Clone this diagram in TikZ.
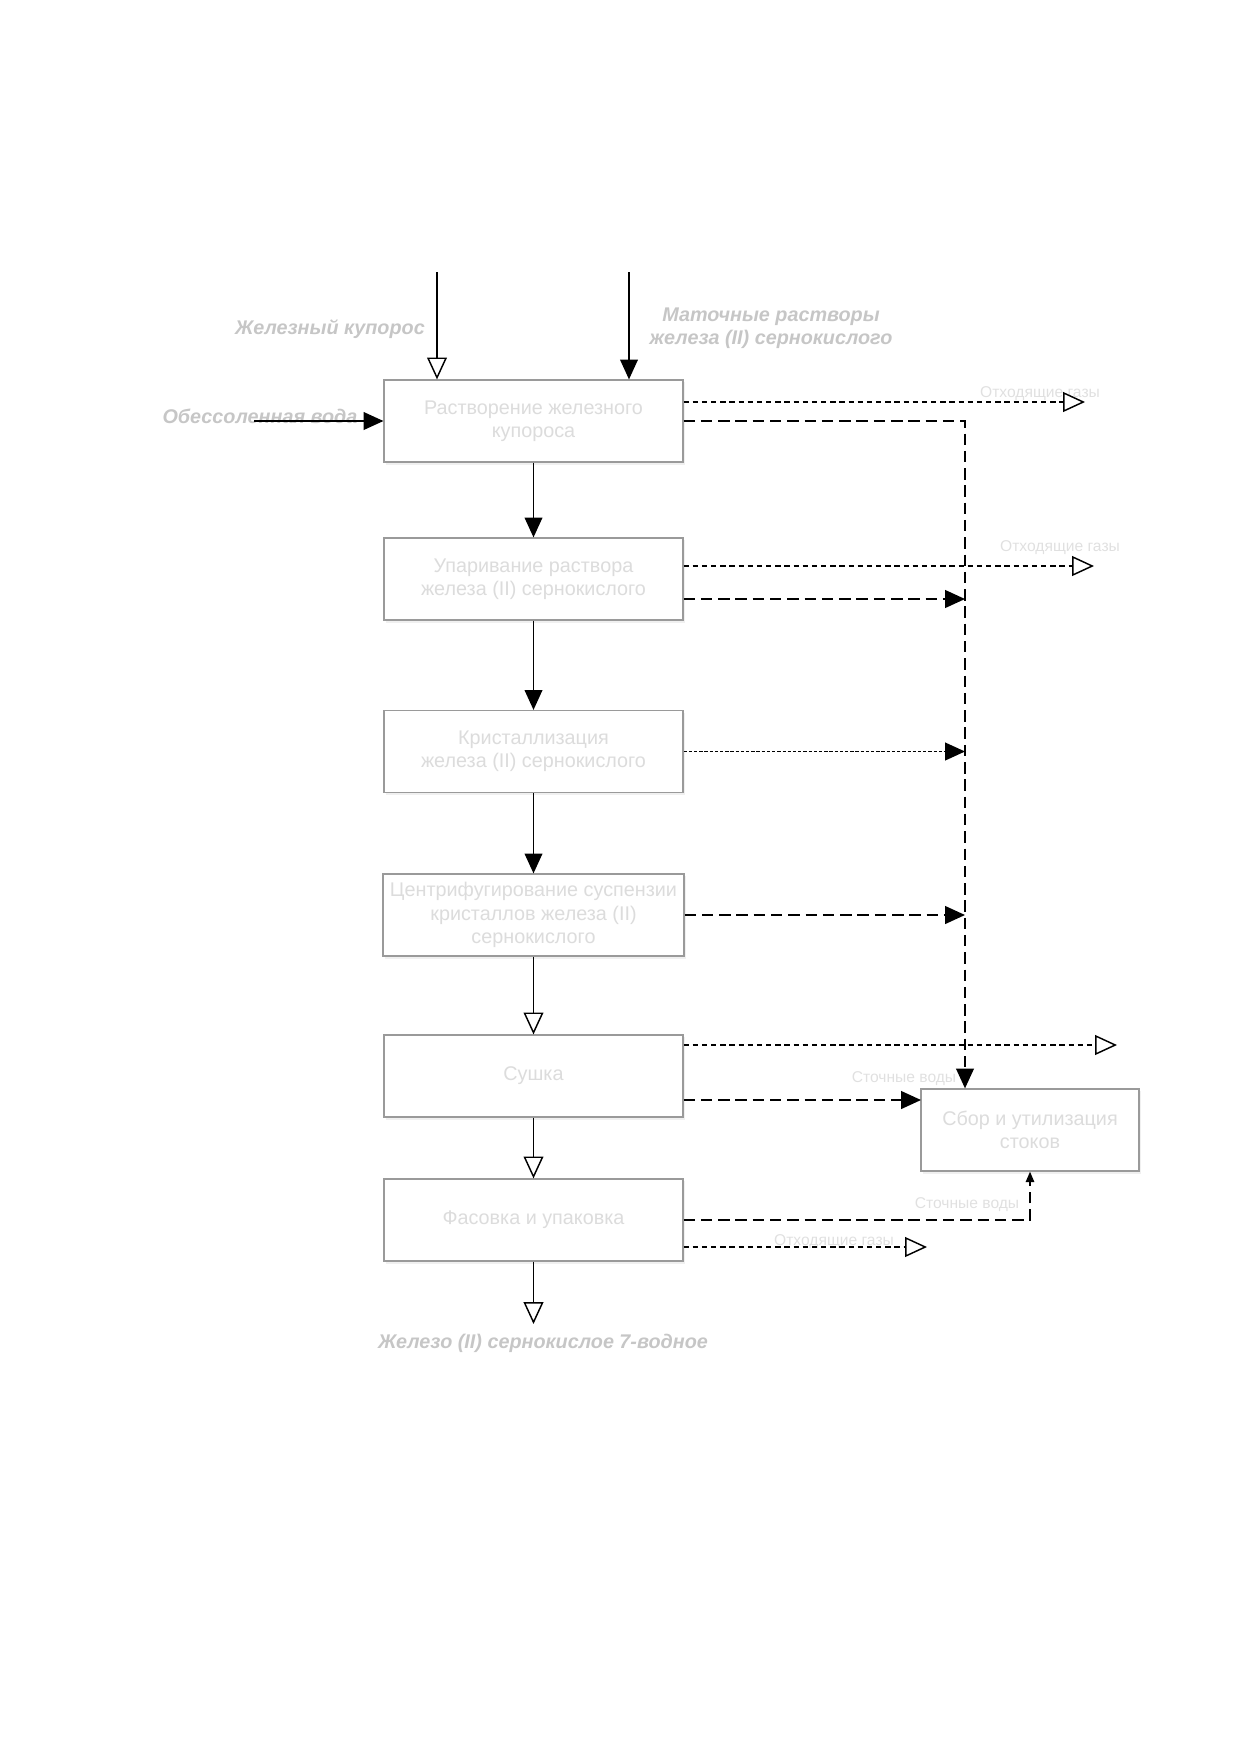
\documentclass[tikz,border=0pt]{standalone}
\usepackage{fontspec}
\setmainfont{Liberation Sans}
\usetikzlibrary{arrows.meta,shadows}

\definecolor{boxline}{HTML}{9A9A9A}
\definecolor{boxtext}{HTML}{DCDCDC}
\definecolor{flowtext}{HTML}{C6C6C6}
\definecolor{smalltext}{HTML}{E0E0E0}

\tikzset{
  proc/.style={draw=boxline, fill=white, line width=0.55pt, minimum width=143.5pt,
    minimum height=39.4pt, align=center, text=boxtext,
    font=\fontsize{9.5}{11.2}\selectfont,
    drop shadow={opacity=0.12, shadow xshift=0.8pt, shadow yshift=-1.2pt}},
  flowlabel/.style={text=flowtext, align=center,
    font=\bfseries\itshape\fontsize{9.5}{11}\selectfont},
  note/.style={text=smalltext, font=\fontsize{7.5}{9}\selectfont},
  fl/.style={line width=0.7pt},
  gas/.style={line width=0.7pt, dash pattern=on 2.6pt off 1.8pt},
  waste/.style={line width=0.8pt, dash pattern=on 5.5pt off 2.8pt},
  fine/.style={line width=0.7pt, dash pattern=on 1.6pt off 0.9pt},
  fill tip/.style={-{Triangle[length=9.5pt,width=8.5pt]}},
  open tip/.style={-{Triangle[open,length=10.5pt,width=9.5pt,fill=white]}},
  small tip/.style={-{Triangle[length=5pt,width=4pt]}}
}

\begin{document}
\begin{tikzpicture}[x=0.48pt,y=-0.48pt]
\useasboundingbox (0,0) rectangle (1241,1754);

% process blocks
\begin{scope}[every node/.style={proc}]
    \node (rastv)  at (533.5,421)  {Растворение железного\\купороса};
    \node (upariv) at (533.5,579)  {Упаривание раствора\\железа (II) сернокислого};
    \node (krist)  at (533.5,751.5) {Кристаллизация\\железа (II) сернокислого};
    \node (centr)  at (533.5,915)  {Центрифугирование суспензии\\кристаллов железа (II)\\сернокислого};
    \node (sushka) at (533.5,1076) {Сушка};
    \node (fasov)  at (533.5,1220) {Фасовка и упаковка};
    \node[minimum width=104.6pt] (sbor) at (1030,1130) {Сбор и утилизация\\стоков};
\end{scope}

% labels
\node[flowlabel] (kuporos) at (330,329) {Железный купорос};
\node[flowlabel] (matochn) at (771,328) {Маточные растворы\\железа (II) сернокислого};
\node[flowlabel] (voda) at (260,416) {Обессоленная вода};
\node[flowlabel] (product) at (543,1343) {Железо (II) сернокислое 7-водное};
\node[note] (gas1) at (1040,394) {Отходящие газы};
\node[note] (gas2) at (1060,548) {Отходящие газы};
\node[note] (gas3) at (834,1242) {Отходящие газы};
\node[note] (stok1) at (904,1079) {Сточные воды};
\node[note] (stok2) at (967,1205) {Сточные воды};

% free ends
\coordinate (in1) at (437,272);
\coordinate (in2) at (629,272);
\coordinate (in3) at (254,421);
\coordinate (out) at (533.5,1324);
\coordinate (col) at (965,421);
\coordinate (g1) at (1085,402);
\coordinate (g2) at (1094,566);
\coordinate (w2) at (965,599);
\coordinate (g5) at (1117,1045);
\coordinate (w5) at (921,1100);
\coordinate (g6) at (927,1247);

% inputs and output
\draw[fl,open tip] (in1) -- (in1 |- rastv.north);
\draw[fl,fill tip] (in2) -- (in2 |- rastv.north);
\draw[fl,fill tip] (in3) -- (rastv.west);
\draw[fl,open tip] (fasov.south) -- (out);

% main chain
\begin{scope}[fl]
    \path[fill tip] (rastv) edge (upariv);
    \path[fill tip] (upariv) edge (krist);
    \path[fill tip] (krist) edge (centr);
    \path[open tip] (centr) edge (sushka);
    \path[open tip] (sushka) edge (fasov);
\end{scope}

% side streams
\draw[gas,open tip] (rastv.east |- g1) -- (g1);
\draw[waste,fill tip] (rastv.east) -- (col) -- (col |- sbor.north);
\draw[gas,open tip] (upariv.east |- g2) -- (g2);
\draw[waste,fill tip] (upariv.east |- w2) -- (w2);
\draw[fine,fill tip] (krist.east) -- (krist.east -| col);
\draw[waste,fill tip] (centr.east) -- (centr.east -| col);
\draw[gas,open tip] (sushka.east |- g5) -- (g5);
\draw[waste,fill tip] (sushka.east |- w5) -- (w5);
\draw[waste,small tip] (fasov.east) -- (fasov.east -| sbor.south) -- (sbor.south);
\draw[gas,open tip] (fasov.east |- g6) -- (g6);
\end{tikzpicture}
\end{document}
